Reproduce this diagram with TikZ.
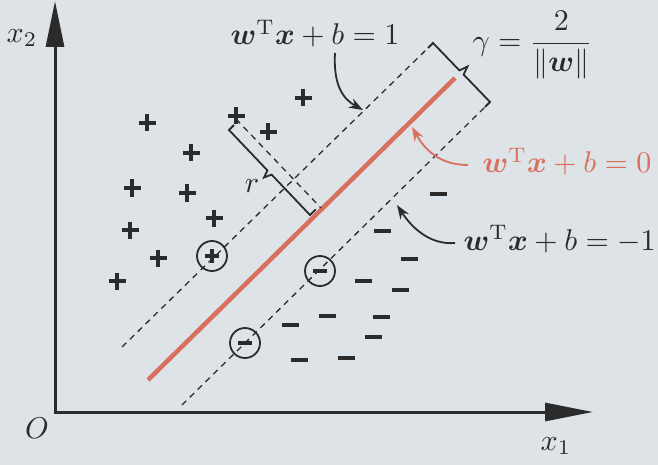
\documentclass[tikz,border=0pt]{standalone}
\usepackage{amsmath,bm}
\usetikzlibrary{arrows.meta}
\definecolor{ink}{HTML}{2B2B2B}
\definecolor{svmred}{HTML}{D9705E}
\definecolor{paper}{HTML}{DDE3E7}
\tikzset{
  axisline/.style={line width=3pt, draw=ink, line join=miter},
  sepline/.style={line width=4.5pt, draw=svmred},
  marginline/.style={line width=1.3pt, dash pattern=on 6pt off 5pt, draw=ink},
  bracketline/.style={line width=1.8pt, draw=ink, line join=miter},
  callout/.style={line width=1.8pt, draw=ink, -{Stealth[length=14pt,width=10pt]}},
  ptline/.style={line width=3.2pt, draw=ink},
  lbl/.style={inner sep=0pt, scale=3, text=ink},
  plusmark/.pic={\draw[ptline] (-8.5,0) -- (8.5,0) (0,-8.5) -- (0,8.5);},
  minusmark/.pic={\draw[ptline] (-8.5,0) -- (8.5,0);},
  circplus/.pic={\draw[line width=1.8pt, draw=ink] (0,0) circle (15);
                 \draw[ptline] (-7,0) -- (7,0) (0,-7) -- (0,7);},
  circminus/.pic={\draw[line width=1.8pt, draw=ink] (0,0) circle (15);
                  \draw[ptline] (-7,0) -- (7,0);},
}
\begin{document}
\begin{tikzpicture}[x=1pt,y=-1pt]
\fill[paper] (0,0) rectangle (658,465);
\useasboundingbox (0,0) rectangle (658,465);

% axes
\coordinate (O) at (55,412);
\coordinate (ytip) at (55,1);
\coordinate (xtip) at (593,412);
\draw[axisline, {Triangle[length=46pt,width=18pt]}-{Triangle[length=48pt,width=18pt]}] (ytip) -- (O) -- (xtip);
\node[lbl] (x2) at (22,38) {$x_2$};
\node[lbl] (x1) at (556,446) {$x_1$};
\node[lbl] (o) at (37,428) {$O$};

% separating hyperplane and margins
\coordinate (r0) at (148,380);
\coordinate (r1) at (455,78);
\draw[sepline] (r0) -- (r1);
\coordinate (u0) at (122,347);
\coordinate (u1) at (428,48);
\draw[marginline] (u0) -- (u1);
\coordinate (l0) at (182,405);
\coordinate (l1) at (485,107);
\draw[marginline] (l0) -- (l1);

% gamma bracket
\coordinate (gT) at (433,43);
\coordinate (gA) at (459.4,70.4);
\coordinate (gN) at (467.5,66.5);
\coordinate (gB) at (463.6,74.6);
\coordinate (gC) at (490,102);
\draw[bracketline] (u1) -- (gT) -- (gA) -- (gN) -- (gB) -- (gC) -- (l1);

% distance r
\coordinate (q) at (236,119);
\coordinate (f) at (321,208);
\draw[marginline] (q) -- (f);
\coordinate (rS) at (234,125);
\coordinate (rT) at (229,130);
\coordinate (rA) at (267.4,170.4);
\coordinate (rN) at (264,177.5);
\coordinate (rB) at (271.6,174.6);
\coordinate (rC) at (310,215);
\coordinate (rE) at (315.7,209.4);
\draw[bracketline] (rS) -- (rT) -- (rA) -- (rN) -- (rB) -- (rC) -- (rE);
\node[lbl] (rlab) at (252,186) {$r$};

% positive samples
\foreach \p in {(147,123),(303,98),(236,116),(268,132),(191,153),(132,188),
                (187,193),(214,218),(130,230),(158,258),(117,281)}
  \pic at \p {plusmark};
\pic at (212,256) {circplus};

% negative samples
\foreach \p in {(438,194),(382,231),(409,259),(363,281),(400,290),(327,316),
                (381,317),(290,325),(373,337),(346,358),(299,360)}
  \pic at \p {minusmark};
\pic at (320,271) {circminus};
\pic at (245,343) {circminus};

% labels
\node[lbl, anchor=base west] (eqp) at (230,45) {$\bm{w}^{\mathrm{T}}\bm{x}+b=1$};
\node[lbl, anchor=base west, text=svmred] (eqz) at (482,173) {$\bm{w}^{\mathrm{T}}\bm{x}+b=0$};
\node[lbl, anchor=base west] (eqm) at (463,250) {$\bm{w}^{\mathrm{T}}\bm{x}+b=-1$};
\node[lbl, anchor=base west] (gam) at (472,51) {$\gamma=\dfrac{2}{\|\bm{w}\|}$};

% callouts
\coordinate (a1s) at (335,53);
\coordinate (a1e) at (363,110);
\draw[callout] (a1s) .. controls (333,88) and (345,100) .. (a1e);
\coordinate (a0s) at (468,165);
\coordinate (a0e) at (412,127);
\draw[callout, draw=svmred] (a0s) .. controls (440,165) and (425,150) .. (a0e);
\coordinate (ams) at (455,243);
\coordinate (ame) at (397,205);
\draw[callout] (ams) .. controls (430,245) and (412,228) .. (ame);
\end{tikzpicture}
\end{document}
